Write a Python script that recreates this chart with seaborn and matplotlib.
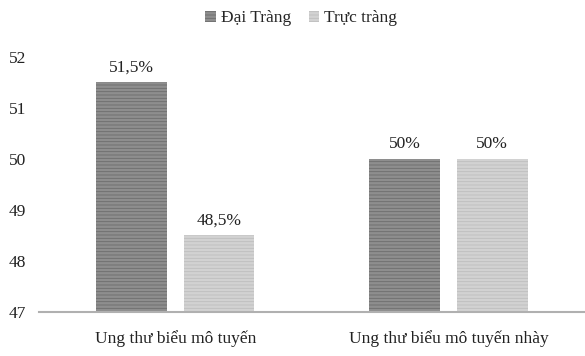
import numpy as np
import pandas as pd
import matplotlib
matplotlib.use("Agg")
import matplotlib.pyplot as plt
import seaborn as sns
from matplotlib.patches import Patch

# data
categories = ["Ung thư biểu mô tuyến", "Ung thư biểu mô tuyến nhày"]
series = ["Đại Tràng", "Trực tràng"]
dai_trang = [51.5, 50.0]
truc_trang = [48.5, 50.0]
value_labels = {"Đại Tràng": ["51,5%", "50%"], "Trực tràng": ["48,5%", "50%"]}

df = pd.DataFrame({
    "loai": categories * 2,
    "vitri": [series[0]] * 2 + [series[1]] * 2,
    "tyle": dai_trang + truc_trang,
})

sns.set_theme(style="white")
plt.rcParams["font.family"] = ["Liberation Serif", "DejaVu Serif"]
plt.rcParams["hatch.linewidth"] = 0.6

fig = plt.figure(figsize=(5.85, 3.56), dpi=100)
ax = fig.add_axes([0.066, 0.124, 0.934, 0.716])

pal = {"Đại Tràng": "#8e8e8e", "Trực tràng": "#d2d2d2"}
sns.barplot(data=df, x="loai", y="tyle", hue="vitri", palette=pal,
            width=0.64, gap=0.19, ax=ax, legend=False)

hatch_cols = ["#6c6c6c", "#bdbdbd"]
for cont, s, hc in zip(ax.containers, series, hatch_cols):
    for bar in cont:
        bar.set_hatch("-----")
        bar.set_edgecolor(hc)
        bar.set_linewidth(0)
    ax.bar_label(cont, labels=value_labels[s], padding=5, fontsize=12.5, color="#222222")

ax.set_ylim(47, 52)
ax.set_xlim(-0.5, 1.5)
ax.set_yticks([47, 48, 49, 50, 51, 52])
ax.set_xlabel("")
ax.set_ylabel("")
ax.tick_params(axis="both", length=0, labelsize=12.5, colors="#222222")
ax.tick_params(axis="x", pad=13)
ax.tick_params(axis="y", pad=9)
for side in ["left", "right", "top"]:
    ax.spines[side].set_visible(False)
ax.spines["bottom"].set_color("#b0b0b0")
ax.spines["bottom"].set_linewidth(1.5)

handles = [Patch(facecolor=pal[s], edgecolor=h, hatch="-----", linewidth=0)
           for s, h in zip(series, hatch_cols)]
fig.legend(handles, series, loc="upper center", bbox_to_anchor=(0.515, 1.015), ncol=2,
           frameon=False, fontsize=12.5, handlelength=0.6, handleheight=0.6,
           handletextpad=0.3, columnspacing=1.0)

fig.savefig("out.png", dpi=100)
